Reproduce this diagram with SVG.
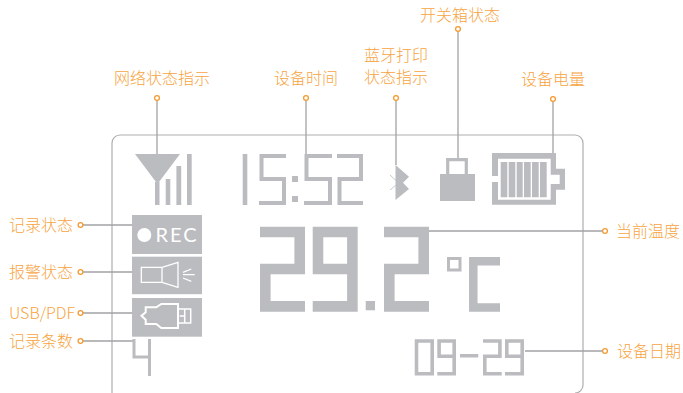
<svg xmlns="http://www.w3.org/2000/svg" width="683" height="393" viewBox="0 0 683 393">
<style>
.l{font-family:"Noto Sans CJK SC","Noto Sans",sans-serif;font-size:16px;fill:#f7a442;font-weight:300}
.c{fill:none;stroke:#a3a3a6;stroke-width:1.3}
.d{fill:#fff;stroke:#f59a32;stroke-width:1.3}
.g{fill:#bbbcbf}
.s{fill:none;stroke:#bbbcbf}
.w{fill:none;stroke:#fff}
</style>
<rect width="683" height="393" fill="#fff"/>
<path id="frame" d="M112 393V143a8 8 0 0 1 8-8H575a8 8 0 0 1 8 8V385a8 8 0 0 1-8 8" fill="none" stroke="#aeaeb0" stroke-width="1.2"/>
<g id="connectors">
<path class="c" d="M157 98V154M306 98V154M396 98V165M458 29V159M553 99V153M80 225H132M80 272H134M80 313H134M80 341H133M429 231H603M525 351H603"/>
</g>
<g id="signal" class="g">
<polygon points="135,154 180,154 157.500,184"/>
<rect x="155" y="182" width="4.500" height="23"/><rect x="165.700" y="179" width="4.600" height="26"/><rect x="176.400" y="166" width="4.800" height="39"/><rect x="187" y="154" width="4.700" height="51"/>
</g>
<g id="time">
<rect class="g" x="242.700" y="154" width="4.600" height="51"/>
<path class="s" stroke-width="4" d="M286 156H261.500V179H284V203H259M332 156H306.500V179H330V203H304M337 156H361V179H339.500V203H363"/>
<rect class="g" x="292" y="176" width="6" height="6"/><rect class="g" x="292" y="196" width="6" height="6"/>
</g>
<g id="bluetooth">
<polygon class="g" points="395.500,165 409,176.700 403,182.700 409,189 395.500,200"/>
<path d="M390 175L396 180.500M390 190L396 185" stroke="#bbbcbf" stroke-width="0.8" fill="none"/>
</g>
<g id="lock">
<rect class="g" x="440" y="174" width="35" height="27"/>
<path class="s" stroke-width="3.200" d="M447.700 174V159.700H466.300V174"/>
</g>
<g id="battery">
<path class="g" d="M492 153H556V168.700H565V189.700H556V204.700H492V182H498V199.700H550.700V184H559.700V174.700H550.700V158.700H498V176H492Z"/>
<path class="g" d="M500.700 162H507.300V197.300H500.700ZM508.700 162H515.300V197.300H508.700ZM516.700 162H522.700V197.300H516.700ZM524 162H530.700V197.300H524ZM532 162H538.700V197.300H532ZM540 162H546.700V197.300H540Z"/>
</g>
<g id="rec"><rect class="g" x="132" y="215" width="70" height="39"/>
<circle cx="144.300" cy="235" r="7" fill="#fff"/>
<text x="155.500" y="242" font-family="Lato,sans-serif" font-size="20" fill="#fff" letter-spacing="2">REC</text></g>
<g id="alarm"><rect class="g" x="132" y="256.700" width="70" height="37.500"/>
<path class="w" stroke-width="1.300" d="M141.300 267.300H162V282.300H141.300ZM162 267.300L178 262.300V287.300L162 282.300M183 272.300L191.300 269M183 274.700H194.700M183 278L191.300 281.300"/></g>
<g id="usb"><rect class="g" x="132" y="298" width="70" height="38.700"/>
<path class="w" stroke-width="2" d="M145.700 307.300H156.300L161.300 304H178V328H161.300L156.300 324H145.700V319.700L141.500 315.700L145.700 312.300Z"/>
<path class="w" stroke-width="1.500" d="M178 309H190.700V323H178M179.700 316H184.700M184.700 309V323"/></g>
<g id="count"><path class="s" stroke-width="3" d="M134 339V357H149.500M149.500 339V376"/></g>
<g id="temp">
<path class="s" stroke-width="10.600" d="M260 232H299.700V269H265.300V306.400H305M312.700 269H352.400V232H318V269M352.400 232V306.400H312.700M384 232H423.700V269H389.300V306.400H429"/>
<path class="s" stroke-width="8.500" d="M500 261.300H473.300V307.400H500"/>
<rect class="g" x="365.700" y="301" width="9.300" height="9.300"/>
<rect x="448.500" y="258.500" width="11.500" height="11.500" fill="#fff" stroke="#bbbcbf" stroke-width="3"/>
</g>
<g id="date">
<path class="s" stroke-width="3.600" d="M416.500 341H432.200V373.700H416.500ZM456 341H439.100V356.200H454.200M454.200 341V373.700H437.300M460 355.700H478.300M483 341H499.900V356.200H484.800V373.700H501.700M524 341H506.800V356.200H522.200M522.200 341V373.700H505"/>
</g>
<g id="dots">
<circle class="d" cx="157" cy="98" r="2.400"/><circle class="d" cx="306" cy="98" r="2.400"/><circle class="d" cx="396" cy="98" r="2.400"/><circle class="d" cx="458" cy="29" r="2.400"/><circle class="d" cx="553" cy="99" r="2.400"/>
<circle class="d" cx="80.500" cy="225" r="2.400"/><circle class="d" cx="80.500" cy="272" r="2.400"/><circle class="d" cx="80.500" cy="313" r="2.400"/><circle class="d" cx="80.500" cy="341" r="2.400"/>
<circle class="d" cx="605" cy="231" r="2.400"/><circle class="d" cx="605" cy="351" r="2.400"/>
</g>
<g id="labels">
<text class="l" x="114" y="84">网络状态指示</text>
<text class="l" x="274" y="84">设备时间</text>
<text class="l" x="364" y="61">蓝牙打印</text>
<text class="l" x="364" y="83">状态指示</text>
<text class="l" x="420" y="21">开关箱状态</text>
<text class="l" x="521" y="85">设备电量</text>
<text class="l" x="9" y="231">记录状态</text>
<text class="l" x="9" y="278">报警状态</text>
<text class="l" x="9" y="319" font-size="15.500">USB/PDF</text>
<text class="l" x="9" y="347">记录条数</text>
<text class="l" x="616" y="237">当前温度</text>
<text class="l" x="617" y="357">设备日期</text>
</g>
</svg>
